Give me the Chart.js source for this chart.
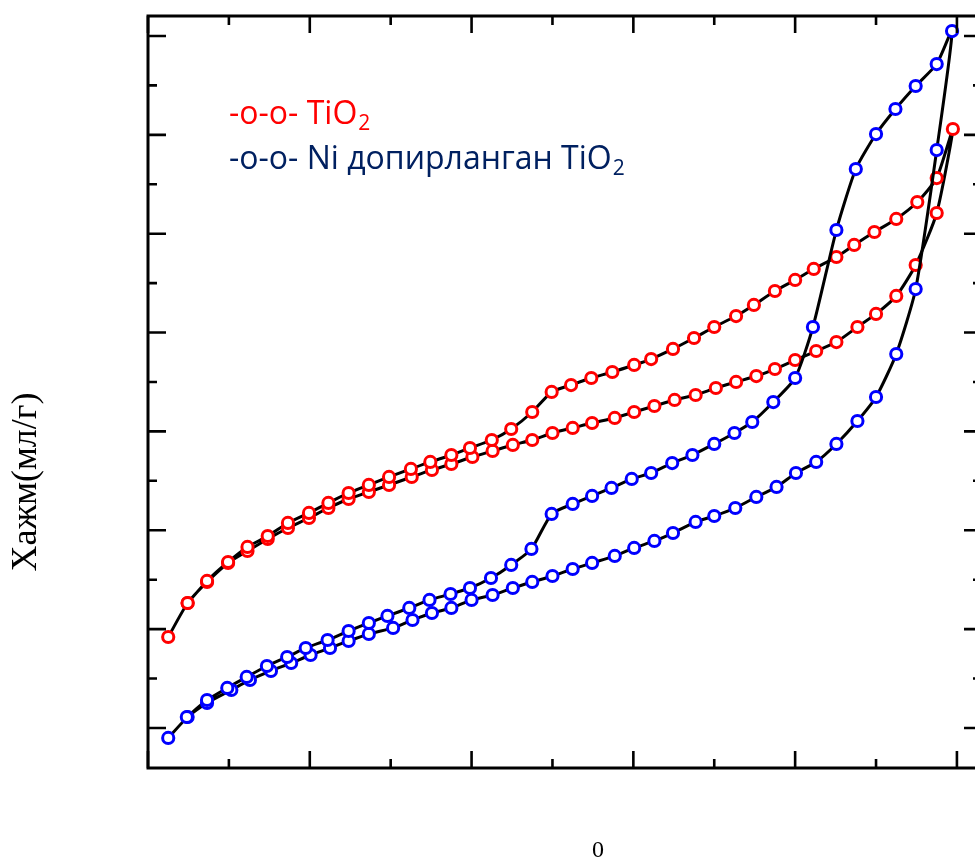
<!DOCTYPE html>
<html>
<head>
<meta charset="utf-8">
<script src="https://cdn.jsdelivr.net/npm/chart.js@4.4.1/dist/chart.umd.min.js"></script>
<style>
  html, body { margin: 0; padding: 0; background: #fff; overflow: hidden; }
  #wrap { position: absolute; left: 0; top: 0; width: 1000px; height: 861px; }
</style>
</head>
<body>
<div id="wrap"><canvas id="isotherm"></canvas></div>
<script>
// TiO2: adsorption branch (P/P0 up), then desorption branch (P/P0 down)
const tio2AdsP = [0.025, 0.049, 0.073, 0.099, 0.123, 0.148, 0.173, 0.199, 0.223, 0.248,
                  0.273, 0.298, 0.326, 0.351, 0.375, 0.401, 0.426, 0.451, 0.475, 0.500,
                  0.525, 0.549, 0.577, 0.601, 0.626, 0.651, 0.677, 0.702, 0.727, 0.752,
                  0.775, 0.800, 0.826, 0.851, 0.877, 0.900, 0.925, 0.949, 0.975, 0.995];
const tio2AdsV = [19.20, 22.64, 24.77, 26.69, 27.90, 29.12, 30.23, 31.24, 32.25, 33.16,
                  33.87, 34.58, 35.39, 36.10, 36.70, 37.41, 38.02, 38.63, 39.13, 39.84,
                  40.35, 40.85, 41.36, 41.96, 42.57, 43.18, 43.68, 44.39, 45.00, 45.60,
                  46.31, 47.22, 48.13, 49.04, 50.56, 51.88, 53.70, 56.83, 62.09, 70.59];
const tio2DesP = [0.975, 0.951, 0.925, 0.898, 0.873, 0.851, 0.823, 0.800, 0.775, 0.749,
                  0.727, 0.700, 0.675, 0.649, 0.622, 0.601, 0.574, 0.548, 0.523, 0.499,
                  0.475, 0.449, 0.425, 0.398, 0.375, 0.349, 0.325, 0.298, 0.273, 0.248,
                  0.223, 0.199, 0.173, 0.148, 0.123, 0.099, 0.073, 0.049];
const tio2DesV = [65.63, 63.20, 61.49, 60.17, 58.86, 57.64, 56.43, 55.32, 54.20, 52.79,
                  51.67, 50.56, 49.45, 48.34, 47.32, 46.72, 46.01, 45.40, 44.69, 43.99,
                  41.96, 40.24, 39.13, 38.32, 37.61, 36.91, 36.20, 35.39, 34.58, 33.77,
                  32.76, 31.75, 30.74, 29.42, 28.31, 26.79, 24.87, 22.64];

// Ni-doped TiO2
const niAdsP = [0.025, 0.049, 0.073, 0.103, 0.126, 0.152, 0.177, 0.201, 0.225, 0.248,
                0.273, 0.303, 0.327, 0.351, 0.375, 0.400, 0.426, 0.451, 0.475, 0.500,
                0.525, 0.549, 0.577, 0.601, 0.626, 0.649, 0.677, 0.700, 0.726, 0.752,
                0.777, 0.801, 0.826, 0.851, 0.877, 0.900, 0.925, 0.949, 0.975, 0.994];
const niAdsV = [8.99, 11.11, 12.53, 13.84, 14.86, 15.77, 16.57, 17.38, 18.09, 18.80,
                19.51, 20.12, 20.92, 21.63, 22.14, 22.95, 23.45, 24.16, 24.77, 25.37,
                26.08, 26.69, 27.40, 28.21, 28.92, 29.72, 30.84, 31.44, 32.25, 33.37,
                34.38, 35.79, 36.91, 38.73, 41.05, 43.48, 47.83, 54.40, 68.46, 80.50];
const niDesP = [0.975, 0.949, 0.924, 0.900, 0.875, 0.851, 0.822, 0.800, 0.773, 0.747,
                0.725, 0.700, 0.673, 0.648, 0.622, 0.598, 0.573, 0.549, 0.525, 0.499,
                0.474, 0.449, 0.424, 0.398, 0.374, 0.348, 0.323, 0.296, 0.273, 0.248,
                0.222, 0.195, 0.172, 0.147, 0.122, 0.098, 0.073, 0.048];
const niDesV = [77.16, 74.94, 72.61, 70.08, 66.54, 60.37, 50.56, 45.40, 42.97, 40.95,
                39.84, 38.73, 37.61, 36.80, 35.79, 35.19, 34.28, 33.47, 32.66, 31.65,
                28.11, 26.49, 25.17, 24.16, 23.55, 22.95, 22.14, 21.33, 20.62, 19.81,
                18.90, 18.09, 17.18, 16.27, 15.16, 14.05, 12.83, 11.11];

// tick positions (no labels shown in the figure)
const xMajorTicks = [0, 0.2, 0.4, 0.6, 0.8, 1.0];
const xMinorTicks = [0.1, 0.3, 0.5, 0.7, 0.9];
const yMajorTicks = [10, 20, 30, 40, 50, 60, 70, 80];
const yMinorTicks = [15, 25, 35, 45, 55, 65, 75];

const yTitle = 'Хажм(мл/г)';
const xTitle = '0';
const legendItems = [
  { text: '-o-o- TiO', sub: '2', color: '#ff0000' },
  { text: '-o-o- Ni допирланган TiO', sub: '2', color: '#002060' }
];

const toPoints = (ps, vs) => ps.map((p, i) => ({ x: p, y: vs[i] }));

// рамка, внутренние риски, подписи осей и легенда
const framePlugin = {
  id: 'frame',
  afterDraw(chart) {
    const { ctx, chartArea: a, scales } = chart;
    const xs = scales.x, ys = scales.y;
    ctx.save();
    ctx.strokeStyle = '#000';
    ctx.lineCap = 'butt';

    ctx.lineWidth = 2.6;
    const tick = (vals, len) => {
      vals.forEach(v => {
        const px = xs.getPixelForValue(v);
        ctx.beginPath();
        ctx.moveTo(px, a.bottom); ctx.lineTo(px, a.bottom - len);
        ctx.moveTo(px, a.top); ctx.lineTo(px, a.top + len);
        ctx.stroke();
      });
    };
    const tickY = (vals, len) => {
      vals.forEach(v => {
        const py = ys.getPixelForValue(v);
        ctx.beginPath();
        ctx.moveTo(a.left, py); ctx.lineTo(a.left + len, py);
        ctx.moveTo(a.right, py); ctx.lineTo(a.right - len, py);
        ctx.stroke();
      });
    };
    tick(xMajorTicks, 17); tick(xMinorTicks, 9);
    tickY(yMajorTicks, 18); tickY(yMinorTicks, 9);

    ctx.lineWidth = 3;
    ctx.strokeRect(a.left, a.top, a.right - a.left, a.bottom - a.top);

    // axis titles
    ctx.fillStyle = '#000';
    ctx.font = '36px "Liberation Serif", "Times New Roman", serif';
    ctx.textAlign = 'center';
    ctx.textBaseline = 'middle';
    ctx.save();
    ctx.translate(27, 482);
    ctx.rotate(-Math.PI / 2);
    ctx.fillText(yTitle, 0, 0);
    ctx.restore();
    ctx.font = '24px "Liberation Serif", "Times New Roman", serif';
    ctx.fillText(xTitle, 598, 851);

    // legend
    ctx.textAlign = 'left';
    ctx.textBaseline = 'alphabetic';
    legendItems.forEach((it, i) => {
      const bx = 229, by = 124 + i * 45;
      ctx.fillStyle = it.color;
      ctx.font = '32px "Open Sans", "Noto Sans", sans-serif';
      ctx.fillText(it.text, bx, by);
      const w = ctx.measureText(it.text).width;
      ctx.font = '21px "Open Sans", "Noto Sans", sans-serif';
      ctx.fillText(it.sub, bx + w + 1, by + 6);
    });
    ctx.restore();
  }
};

const pointStyle = {
  pointBackgroundColor: '#ffffff',
  pointRadius: 5.6,
  pointBorderWidth: 3,
  pointHoverRadius: 5.6,
  borderColor: '#000000',
  borderWidth: 3,
  showLine: true,
  fill: false,
  tension: 0.2
};

new Chart(document.getElementById('isotherm'), {
  type: 'scatter',
  data: {
    datasets: [
      Object.assign({
        label: 'TiO2',
        data: toPoints(tio2AdsP, tio2AdsV).concat(toPoints(tio2DesP, tio2DesV)),
        pointBorderColor: '#ff0000',
        order: 2
      }, pointStyle),
      Object.assign({
        label: 'Ni допирланган TiO2',
        data: toPoints(niAdsP, niAdsV).concat(toPoints(niDesP, niDesV)),
        pointBorderColor: '#0000ff',
        order: 1
      }, pointStyle)
    ]
  },
  options: {
    responsive: true,
    maintainAspectRatio: false,
    animation: false,
    layout: { padding: { left: 148, top: 16, right: 18, bottom: 93 } },
    scales: {
      x: { type: 'linear', display: false, min: 0, max: 1.031 },
      y: { type: 'linear', display: false, min: 5.95, max: 82.02 }
    },
    plugins: {
      legend: { display: false },
      tooltip: { enabled: false }
    }
  },
  plugins: [framePlugin]
});
</script>
</body>
</html>
